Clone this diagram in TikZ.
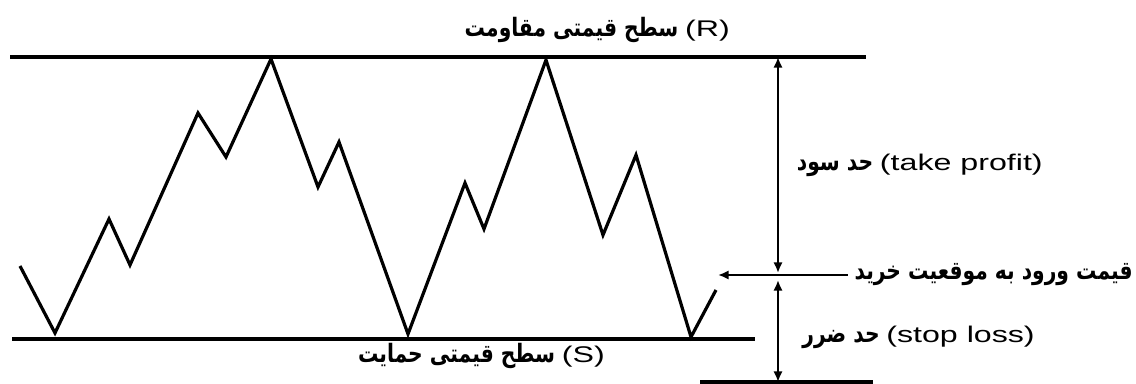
\documentclass[tikz,border=0pt]{standalone}
\usepackage{fontspec}
\usepackage{graphicx}
\usetikzlibrary{arrows.meta}
\setmainfont{Liberation Sans}
\newfontfamily\arabicfont[Script=Arabic]{DejaVu Sans}
\TeXXeTstate=1
\newcommand{\fa}[1]{\scalebox{0.8}[1]{\arabicfont\bfseries\fontsize{19}{22}\selectfont\beginR #1\endR}}
\newcommand{\la}[1]{\scalebox{1.42}[1]{#1}}
\tikzset{
  lbl/.style={inner sep=0pt, anchor=east, font=\fontsize{17}{20}\selectfont},
  level/.style={line width=2.4pt},
  price/.style={line width=2.4pt, line join=miter},
  span arrow/.style={line width=2pt},
}
\begin{document}
\begin{tikzpicture}[x=0.75pt, y=-0.75pt, >={Latex[length=8pt,width=7pt]}]
    \useasboundingbox (0,0) rectangle (1136,384);

    % Support and resistance levels
    \draw[level] (10,57) -- (866,57);
    \draw[level] (12,339) -- (755,339);
    \draw[level] (700,382) -- (873,382);

    % Price path
    \draw[price] (20,266) -- (55,333) -- (109,219) -- (130,265) -- (198,113)
        -- (226,157) -- (271,59) -- (318,187) -- (339,142) -- (408,334)
        -- (465,183) -- (484,229) -- (546,60) -- (603,235) -- (636,155)
        -- (691,337) -- (716,290);

    % Labels
    \node[lbl] (lblR) at (730,30) {\fa{سطح قیمتی مقاومت}\hspace{5pt}\la{(R)}};
    \node[lbl] (lblS) at (605,356) {\fa{سطح قیمتی حمایت}\hspace{5pt}\la{(S)}};
    \node[lbl] (tp) at (1043,165) {\fa{حد سود}\hspace{5pt}\la{(take profit)}};
    \node[lbl] (entry) at (1133,275) {\fa{قیمت ورود به موقعیت خرید}};
    \node[lbl] (sl) at (1035,337) {\fa{حد ضرر}\hspace{5pt}\la{(stop loss)}};

    % Entry arrow and ranges
    \coordinate (entryPt) at (718,275);
    \coordinate (tpTop) at (778,57);
    \coordinate (tpBot) at (778,273);
    \coordinate (slTop) at (778,280);
    \coordinate (slBot) at (778,382);
    \draw[->, span arrow] ([xshift=-5pt]entry.west) -- (entryPt);
    \draw[<->, span arrow] (tpTop) -- (tpBot);
    \draw[<->, span arrow] (slTop) -- (slBot);
\end{tikzpicture}
\end{document}
